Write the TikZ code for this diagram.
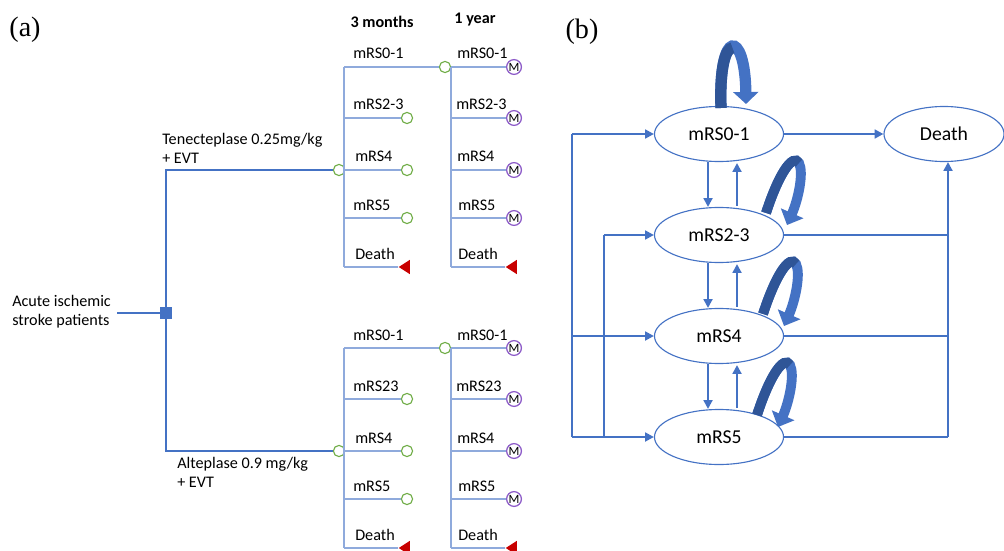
\documentclass[tikz,border=0pt]{standalone}
\usepackage{fontspec}
\setmainfont{Carlito}
\newfontfamily\serifpanel{Liberation Serif}
\usetikzlibrary{arrows.meta,shapes.geometric,calc}
\definecolor{officeblue}{RGB}{68,114,196}
\definecolor{darkblue}{RGB}{47,85,151}
\definecolor{treeblue}{RGB}{143,170,220}
\definecolor{chancegreen}{RGB}{112,173,71}
\definecolor{markovpurple}{RGB}{140,90,200}
\definecolor{termred}{RGB}{200,0,0}
\tikzset{
  lbl/.style={font=\fontsize{11.5}{13.5}\selectfont, inner sep=0pt},
  hdr/.style={font=\bfseries\fontsize{11.5}{13.5}\selectfont, inner sep=0pt},
  panel/.style={font=\serifpanel\fontsize{20}{24}\selectfont, inner sep=0pt},
  branch/.style={draw=treeblue, line width=0.9pt},
  arm/.style={draw=officeblue, line width=1.1pt},
  chance/.style={circle, draw=chancegreen, fill=white, line width=0.8pt, minimum size=0.28cm, inner sep=0pt},
  markov/.style={circle, draw=markovpurple, fill=white, line width=0.9pt, minimum size=0.37cm, inner sep=0pt, font=\fontsize{9}{9}\selectfont},
  terminal/.style={isosceles triangle, shape border rotate=180, isosceles triangle stretches, fill=termred, minimum width=0.36cm, minimum height=0.28cm, inner sep=0pt},
  decision/.style={rectangle, fill=officeblue, minimum size=0.28cm, inner sep=0pt},
  state/.style={ellipse, draw=officeblue, line width=0.8pt, minimum width=3.225cm, minimum height=1.375cm, inner sep=0pt, font=\fontsize{14}{16}\selectfont},
  conn/.style={draw=officeblue, line width=1.8pt, -{Triangle[length=2.2mm,width=2.2mm]}},
  link/.style={draw=officeblue, line width=1.8pt},
  bigloop/.style={draw=officeblue, line width=8pt, -{Triangle[length=3mm,width=6.2mm]}},
  smallloop/.style={draw=officeblue, line width=7pt, -{Triangle[length=3.2mm,width=6mm]}},
}

\begin{document}
\begin{tikzpicture}[x=0.025cm,y=-0.025cm]
  \useasboundingbox (0,0) rectangle (1004,551);

  % (a) decision tree
  \node[panel] (pa) at (25,30) {(a)};
  \node[hdr] (h3m) at (382,22) {3 months};
  \node[hdr] (h1y) at (475,20) {1 year};

  \node[lbl, anchor=west, align=left] (pat) at (12,312) {Acute ischemic\\stroke patients};
  \coordinate (pin) at (117,313);
  \node[decision] (dec) at (166,313) {};
  \draw[arm] (pin) -- (dec);

  \node[lbl, anchor=west, align=left] (tnk) at (162,148) {Tenecteplase 0.25mg/kg\\+ EVT};
  \node[lbl, anchor=west, align=left] (alt) at (177,472) {Alteplase 0.9 mg/kg\\+ EVT};

  \foreach \a/\dy/\lb in {t/0/mRS2-3, a/281/mRS23} {
    \begin{scope}[shift={(0,\dy)}]
      \node[chance] (\a-c) at (339,170) {};
      \coordinate (\a-r1) at (344,67);
      \coordinate (\a-r2) at (344,118);
      \coordinate (\a-r4) at (344,218);
      \coordinate (\a-r5) at (344,267);
      \node[chance] (\a-n1) at (445,67) {};
      \node[chance] (\a-n2) at (407,118) {};
      \node[chance] (\a-n3) at (407,170) {};
      \node[chance] (\a-n4) at (407,218) {};
      \node[terminal] (\a-d) at (406,267) {};
      \coordinate (\a-s1) at (451,67);
      \coordinate (\a-s2) at (451,118);
      \coordinate (\a-s3) at (451,170);
      \coordinate (\a-s4) at (451,218);
      \coordinate (\a-s5) at (451,267);
      \node[markov] (\a-m1) at (514,67) {M};
      \node[markov] (\a-m2) at (514,118) {M};
      \node[markov] (\a-m3) at (514,170) {M};
      \node[markov] (\a-m4) at (514,218) {M};
      \node[terminal] (\a-e) at (513,267) {};

      \draw[branch] (\a-r1) -- (\a-r5);
      \draw[branch] (\a-r1) -- (\a-n1);
      \draw[branch] (\a-r2) -- (\a-n2);
      \draw[branch] (\a-c) -- (\a-n3);
      \draw[branch] (\a-r4) -- (\a-n4);
      \draw[branch] (\a-r5) -- (\a-d);
      \draw[branch] (\a-s1) -- (\a-s5);
      \draw[branch] (\a-n1) -- (\a-m1);
      \draw[branch] (\a-s2) -- (\a-m2);
      \draw[branch] (\a-s3) -- (\a-m3);
      \draw[branch] (\a-s4) -- (\a-m4);
      \draw[branch] (\a-s5) -- (\a-e);

      \node[lbl, anchor=base west] at (353,59) {mRS0-1};
      \node[lbl, anchor=base west] at (353,110) {\lb};
      \node[lbl, anchor=base west] at (355,162) {mRS4};
      \node[lbl, anchor=base west] at (353,210) {mRS5};
      \node[lbl, anchor=base west] at (355,259) {Death};
      \node[lbl, anchor=base west] at (457,59) {mRS0-1};
      \node[lbl, anchor=base west] at (456,110) {\lb};
      \node[lbl, anchor=base west] at (457,162) {mRS4};
      \node[lbl, anchor=base west] at (458,210) {mRS5};
      \node[lbl, anchor=base west] at (458,259) {Death};
    \end{scope}
  }
  \draw[arm] (dec) |- (t-c);
  \draw[arm] (dec) |- (a-c);

  % (b) Markov states
  \node[panel] (pb) at (582,32) {(b)};
  \node[state] (s01) at (719,134) {mRS0-1};
  \node[state] (s23) at (719,235) {mRS2-3};
  \node[state] (s4) at (719,336) {mRS4};
  \node[state] (s5) at (719,437) {mRS5};
  \node[state, minimum width=3cm] (death) at (944,134) {Death};

  \coordinate (l1) at (572,134);
  \coordinate (l4) at (572,336);
  \coordinate (l5) at (572,437);
  \coordinate (i2) at (604,235);
  \coordinate (i5) at (604,437);
  \coordinate (r2) at (948,235);
  \coordinate (r4) at (948,336);
  \coordinate (r5) at (948,437);

  \draw[link] (l5) -- (l1);
  \draw[conn] (l1) -- (s01);
  \draw[conn] (l4) -- (s4);
  \draw[conn] (l5) -- (s5);
  \draw[link] (i5) -- (i2);
  \draw[conn] (i2) -- (s23);
  \draw[link] (s23) -- (r2);
  \draw[link] (s4) -- (r4);
  \draw[link] (s5) -- (r5);
  \draw[conn] (r5) -- (r5 |- death.south);
  \draw[conn] (s01) -- (death);

  \foreach \u/\v in {s01/s23, s23/s4, s4/s5} {
    \draw[conn] ($(\u.south)+(-11,0)$) -- ($(\v.north)+(-11,0)$);
    \draw[conn] ($(\v.north)+(18,-1)$) -- ($(\u.south)+(18,1)$);
  }

  % self loops
  \draw[bigloop] (721,108) .. controls (718,28) and (745,28) .. (746,104);
  \draw[draw=darkblue, line width=8pt] (721,108) .. controls (719.5,68) and (725.5,48) .. (732.5,48);
  \foreach \s/\dx in {s23/0, s4/-3, s5/-9} {
    \begin{scope}[shift={($(\s)+(\dx,0)$)}]
      \draw[smallloop] (47,-22) .. controls (60,-62) and (74,-82) .. (80,-72)
        .. controls (85,-62) and (79,-35) .. (68,-10);
      \draw[draw=darkblue, line width=7pt] (47,-22) .. controls (60,-62) and (74,-82) .. (80,-72);
    \end{scope}
  }
\end{tikzpicture}
\end{document}
